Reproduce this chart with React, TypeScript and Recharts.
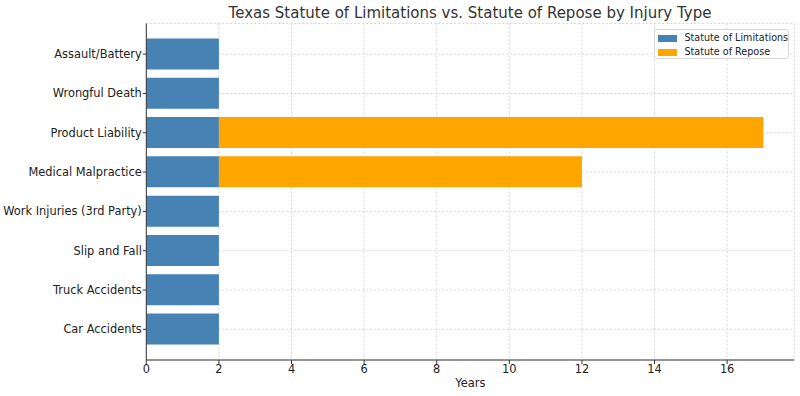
import React from 'react';
import { BarChart, Bar, XAxis, YAxis, CartesianGrid } from 'recharts';

const categories = [
  'Assault/Battery',
  'Wrongful Death',
  'Product Liability',
  'Medical Malpractice',
  'Work Injuries (3rd Party)',
  'Slip and Fall',
  'Truck Accidents',
  'Car Accidents',
];
const limitations = [2, 2, 2, 2, 2, 2, 2, 2];
const repose = [0, 0, 15, 10, 0, 0, 0, 0];
const xTicks = [0, 2, 4, 6, 8, 10, 12, 14, 16];

const data = categories.map((name, i) => ({
  name,
  limitations: limitations[i],
  repose: repose[i],
}));

const FONT = '"DejaVu Sans", sans-serif';
const BLUE = '#4682B4';
const ORANGE = '#FFA500';
const TICK_FS = 11.4;

const legendItems: [string, string][] = [
  ['Statute of Limitations', BLUE],
  ['Statute of Repose', ORANGE],
];

const YTick = (props: any) => {
  const { x, y, payload } = props;
  return (
    <text x={x} y={y} dy="0.35em" textAnchor="end" fontFamily={FONT} fontSize={TICK_FS} fill="#222">
      {payload.value}
    </text>
  );
};

export default function App() {
  return (
    <div style={{ position: 'absolute', left: 0, top: 0, width: 800, height: 396, background: '#fff' }}>
      <div
        style={{
          position: 'absolute',
          left: 146,
          width: 648,
          top: 4,
          textAlign: 'center',
          fontFamily: FONT,
          fontSize: 15,
          color: '#333',
          whiteSpace: 'nowrap',
        }}
      >
        Texas Statute of Limitations vs. Statute of Repose by Injury Type
      </div>
      <BarChart
        width={800}
        height={396}
        data={data}
        layout="vertical"
        margin={{ top: 23.5, right: 5.7, bottom: 0, left: 0 }}
        barCategoryGap="10%"
      >
        <CartesianGrid stroke="#cccccc" strokeDasharray="2 2" strokeWidth={0.8} />
        <XAxis
          type="number"
          domain={[0, 17.85]}
          ticks={xTicks}
          allowDataOverflow
          height={36}
          tickSize={4}
          tickMargin={1}
          stroke="#333"
          tick={{ fontFamily: FONT, fontSize: TICK_FS, fill: '#222' }}
          label={{ value: 'Years', position: 'insideBottom', offset: 9, fontFamily: FONT, fontSize: TICK_FS, fill: '#222' }}
        />
        <YAxis
          type="category"
          dataKey="name"
          width={146.3}
          padding={{ top: 11, bottom: 11 }}
          tickSize={3.5}
          tickMargin={1}
          stroke="#333"
          tick={<YTick />}
          interval={0}
        />
        <Bar dataKey="limitations" stackId="a" fill={BLUE} isAnimationActive={false} name="Statute of Limitations" />
        <Bar dataKey="repose" stackId="a" fill={ORANGE} isAnimationActive={false} name="Statute of Repose" />
      </BarChart>
      <div
        style={{
          position: 'absolute',
          left: 654,
          top: 29,
          width: 135,
          height: 30,
          boxSizing: 'border-box',
          border: '1px solid #d6d6d6',
          borderRadius: 3,
          background: 'rgba(255,255,255,0.8)',
          padding: '1px 0 0 3px',
          fontFamily: FONT,
          fontSize: 9.6,
          color: '#222',
          lineHeight: '14px',
          whiteSpace: 'nowrap',
        }}
      >
        {legendItems.map(([label, color]) => (
          <div key={label} style={{ display: 'flex', alignItems: 'center', height: 14 }}>
            <span style={{ display: 'inline-block', flexShrink: 0, width: 18.5, height: 7, background: color, marginRight: 8 }} />
            <span>{label}</span>
          </div>
        ))}
      </div>
    </div>
  );
}
